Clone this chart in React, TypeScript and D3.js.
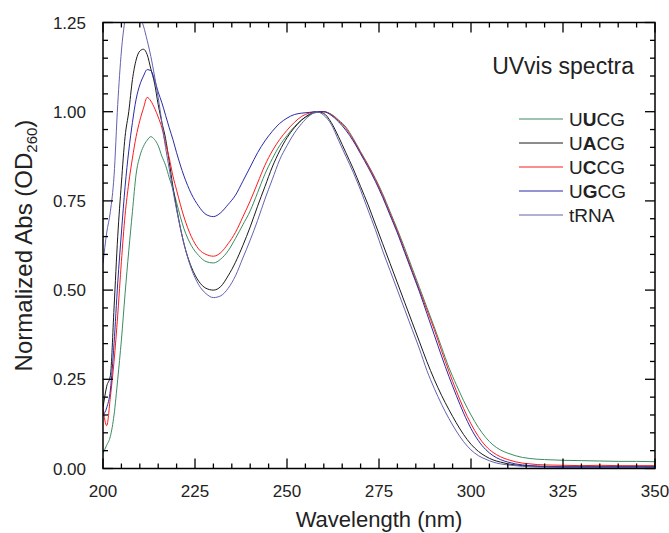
import React from "react";
import * as d3 from "d3";

const wavelengths = [
  200, 201, 202, 203, 204, 205, 206, 207, 208, 209, 210, 211, 212, 213, 214, 215, 216, 217, 218, 219, 220,
  222, 224, 226, 228, 230, 232, 234, 236, 238, 240, 242, 244, 246, 248, 250, 252, 254, 256, 258, 260,
  262, 264, 266, 268, 270, 272, 274, 276, 278, 280, 282, 284, 286, 288, 290, 292, 294, 296, 298, 300,
  302, 304, 306, 308, 310, 312, 314, 316, 318, 320, 325, 330, 335, 340, 345, 350,
];

const uucg = [
  0.043, 0.065, 0.09, 0.15, 0.25, 0.36, 0.49, 0.61, 0.72, 0.825, 0.875, 0.903, 0.92, 0.93, 0.922, 0.905, 0.875, 0.85, 0.815, 0.783, 0.745,
  0.672, 0.625, 0.597, 0.58, 0.576, 0.587, 0.61, 0.645, 0.683, 0.722, 0.773, 0.825, 0.868, 0.905, 0.933, 0.958, 0.977, 0.99, 0.998, 1.0,
  0.993, 0.977, 0.957, 0.925, 0.888, 0.852, 0.813, 0.77, 0.72, 0.67, 0.617, 0.562, 0.507, 0.452, 0.397, 0.34, 0.283, 0.235, 0.19, 0.15,
  0.115, 0.087, 0.066, 0.052, 0.043, 0.036, 0.031, 0.028, 0.026, 0.025, 0.023, 0.022, 0.021, 0.02, 0.02, 0.019,
];

const uacg = [
  0.17, 0.23, 0.26, 0.45, 0.65, 0.8, 0.93, 1.0, 1.09, 1.145, 1.17, 1.175, 1.16, 1.12, 1.08, 1.02, 0.97, 0.925, 0.86, 0.79, 0.73,
  0.63, 0.565, 0.525, 0.505, 0.5, 0.51, 0.54, 0.578, 0.625, 0.677, 0.735, 0.79, 0.845, 0.89, 0.927, 0.955, 0.977, 0.992, 1.0, 0.995,
  0.97, 0.93, 0.885, 0.84, 0.79, 0.74, 0.685, 0.63, 0.575, 0.52, 0.465, 0.41, 0.355, 0.3, 0.25, 0.205, 0.165, 0.128, 0.095, 0.068,
  0.048, 0.034, 0.024, 0.018, 0.013, 0.01, 0.008, 0.007, 0.006, 0.005, 0.004, 0.004, 0.004, 0.004, 0.004, 0.004,
];

const uccg = [
  0.17, 0.12, 0.2, 0.3, 0.43, 0.58, 0.71, 0.8, 0.87, 0.93, 0.975, 1.01, 1.04, 1.03, 1.01, 0.985, 0.955, 0.91, 0.87, 0.82, 0.78,
  0.705, 0.65, 0.615, 0.6, 0.595, 0.605, 0.63, 0.662, 0.705, 0.75, 0.8, 0.85, 0.89, 0.922, 0.948, 0.97, 0.987, 0.996, 1.0, 1.0,
  0.992, 0.975, 0.953, 0.922, 0.885, 0.85, 0.81, 0.765, 0.715, 0.665, 0.61, 0.555, 0.5, 0.445, 0.39, 0.33, 0.272, 0.218, 0.168, 0.125,
  0.09, 0.063, 0.045, 0.033, 0.025, 0.019, 0.015, 0.013, 0.011, 0.01, 0.009, 0.008, 0.009, 0.008, 0.008, 0.008,
];

const ugcg = [
  0.15, 0.17, 0.22, 0.35, 0.52, 0.66, 0.79, 0.89, 0.97, 1.035, 1.075, 1.1, 1.118, 1.115, 1.09, 1.055, 1.025, 0.99, 0.955, 0.922, 0.885,
  0.82, 0.77, 0.735, 0.712, 0.706, 0.717, 0.74, 0.766, 0.805, 0.845, 0.885, 0.918, 0.945, 0.967, 0.982, 0.992, 0.996, 0.998, 1.0, 1.0,
  0.99, 0.972, 0.948, 0.918, 0.882, 0.845, 0.805, 0.76, 0.71, 0.66, 0.605, 0.55, 0.495, 0.435, 0.375, 0.315, 0.258, 0.205, 0.155, 0.112,
  0.078, 0.053, 0.036, 0.025, 0.018, 0.013, 0.01, 0.008, 0.007, 0.006, 0.005, 0.005, 0.005, 0.005, 0.005, 0.005,
];

const trna = [
  0.575, 0.66, 0.72, 0.82, 1.02, 1.17, 1.26, 1.32, 1.34, 1.32, 1.27, 1.24, 1.2, 1.155, 1.1, 1.04, 0.97, 0.9, 0.84, 0.78, 0.725,
  0.63, 0.56, 0.515, 0.49, 0.479, 0.484, 0.505, 0.54, 0.59, 0.64, 0.695, 0.755, 0.81, 0.865, 0.905, 0.94, 0.967, 0.988, 1.0, 0.99,
  0.965, 0.92, 0.875, 0.83, 0.78, 0.725, 0.67, 0.61, 0.555, 0.5, 0.445, 0.39, 0.335, 0.275, 0.225, 0.18, 0.14, 0.105, 0.075, 0.052,
  0.036, 0.026, 0.018, 0.013, 0.01, 0.008, 0.006, 0.005, 0.004, 0.004, 0.003, 0.003, 0.003, 0.003, 0.003, 0.003,
];

const seriesNames = ["UUCG", "UACG", "UCCG", "UGCG", "tRNA"];
const seriesBold = ["U", "A", "C", "G", ""];
const seriesColors = ["#3a8c60", "#1a1a1a", "#ff1a1a", "#2a2aa6", "#6262b0"];
const seriesValues = [uucg, uacg, uccg, ugcg, trna];

const xTicks = [200, 225, 250, 275, 300, 325, 350];
const yTicks = [0, 0.25, 0.5, 0.75, 1.0, 1.25];

const W = 669;
const H = 533;
const left = 103;
const right = 655;
const top = 22.5;
const bottom = 468.5;
const font = "Arial, 'Liberation Sans', Helvetica, sans-serif";

export default function App() {
  const x = d3.scaleLinear().domain([200, 350]).range([left, right]);
  const y = d3.scaleLinear().domain([0, 1.25]).range([bottom, top]);
  const line = d3
    .line<number>()
    .x((_, i) => x(wavelengths[i]))
    .y((d) => y(d))
    .curve(d3.curveMonotoneX);

  const xMinor = d3.range(200, 351, 5);
  const yMinor = d3.range(0, 1.2501, 0.05);
  const majorLen = 10;
  const minorLen = 5;

  return (
    <svg
      width={W}
      height={H}
      style={{ position: "absolute", left: 0, top: 0, background: "#fff" }}
      fontFamily={font}
    >
      <defs>
        <clipPath id="plotclip">
          <rect x={left} y={top} width={right - left} height={bottom - top} />
        </clipPath>
      </defs>
      <g clipPath="url(#plotclip)">
        {seriesValues.map((vals, k) => (
          <path
            key={k}
            d={line(vals) || ""}
            fill="none"
            stroke={seriesColors[k]}
            strokeWidth={1}
          />
        ))}
      </g>
      <rect
        x={left}
        y={top}
        width={right - left}
        height={bottom - top}
        fill="none"
        stroke="#000"
        strokeWidth={1.5}
      />
      {xMinor.map((v) => {
        const major = v % 25 === 0;
        const len = major ? majorLen : minorLen;
        return (
          <g key={"xt" + v} stroke="#000" strokeWidth={1.3}>
            <line x1={x(v)} x2={x(v)} y1={bottom} y2={bottom - len} />
            <line x1={x(v)} x2={x(v)} y1={top} y2={top + len} />
          </g>
        );
      })}
      {yMinor.map((v, i) => {
        const major = i % 5 === 0;
        const len = major ? majorLen : minorLen;
        return (
          <g key={"yt" + i} stroke="#000" strokeWidth={1.3}>
            <line x1={left} x2={left + len} y1={y(v)} y2={y(v)} />
            <line x1={right} x2={right - len} y1={y(v)} y2={y(v)} />
          </g>
        );
      })}
      {xTicks.map((v) => (
        <text key={"xl" + v} x={x(v)} y={497} textAnchor="middle" fontSize={17} fill="#222">
          {v}
        </text>
      ))}
      {yTicks.map((v) => (
        <text key={"yl" + v} x={86} y={y(v) + 6} textAnchor="end" fontSize={17} fill="#222">
          {v.toFixed(2)}
        </text>
      ))}
      <text x={(left + right) / 2} y={527} textAnchor="middle" fontSize={22} fill="#222">
        Wavelength (nm)
      </text>
      <text
        transform={`translate(32, ${(top + bottom) / 2}) rotate(-90)`}
        textAnchor="middle"
        fontSize={24}
        fill="#222"
      >
        Normalized Abs (OD
        <tspan fontSize={15} dy={5}>260</tspan>
        <tspan dy={-5}>)</tspan>
      </text>
      <text x={634} y={74} textAnchor="end" fontSize={23} fill="#222">
        UVvis spectra
      </text>
      {seriesNames.map((name, k) => {
        const cy = 119 + k * 24;
        const b = seriesBold[k];
        return (
          <g key={"lg" + k}>
            <line x1={519} x2={563} y1={cy} y2={cy} stroke={seriesColors[k]} strokeWidth={1} />
            <text x={569} y={cy + 7} fontSize={19} fill="#222">
              {b ? (
                <>
                  <tspan>{name[0]}</tspan>
                  <tspan fontWeight="bold">{name[1]}</tspan>
                  <tspan>{name.slice(2)}</tspan>
                </>
              ) : (
                name
              )}
            </text>
          </g>
        );
      })}
    </svg>
  );
}
